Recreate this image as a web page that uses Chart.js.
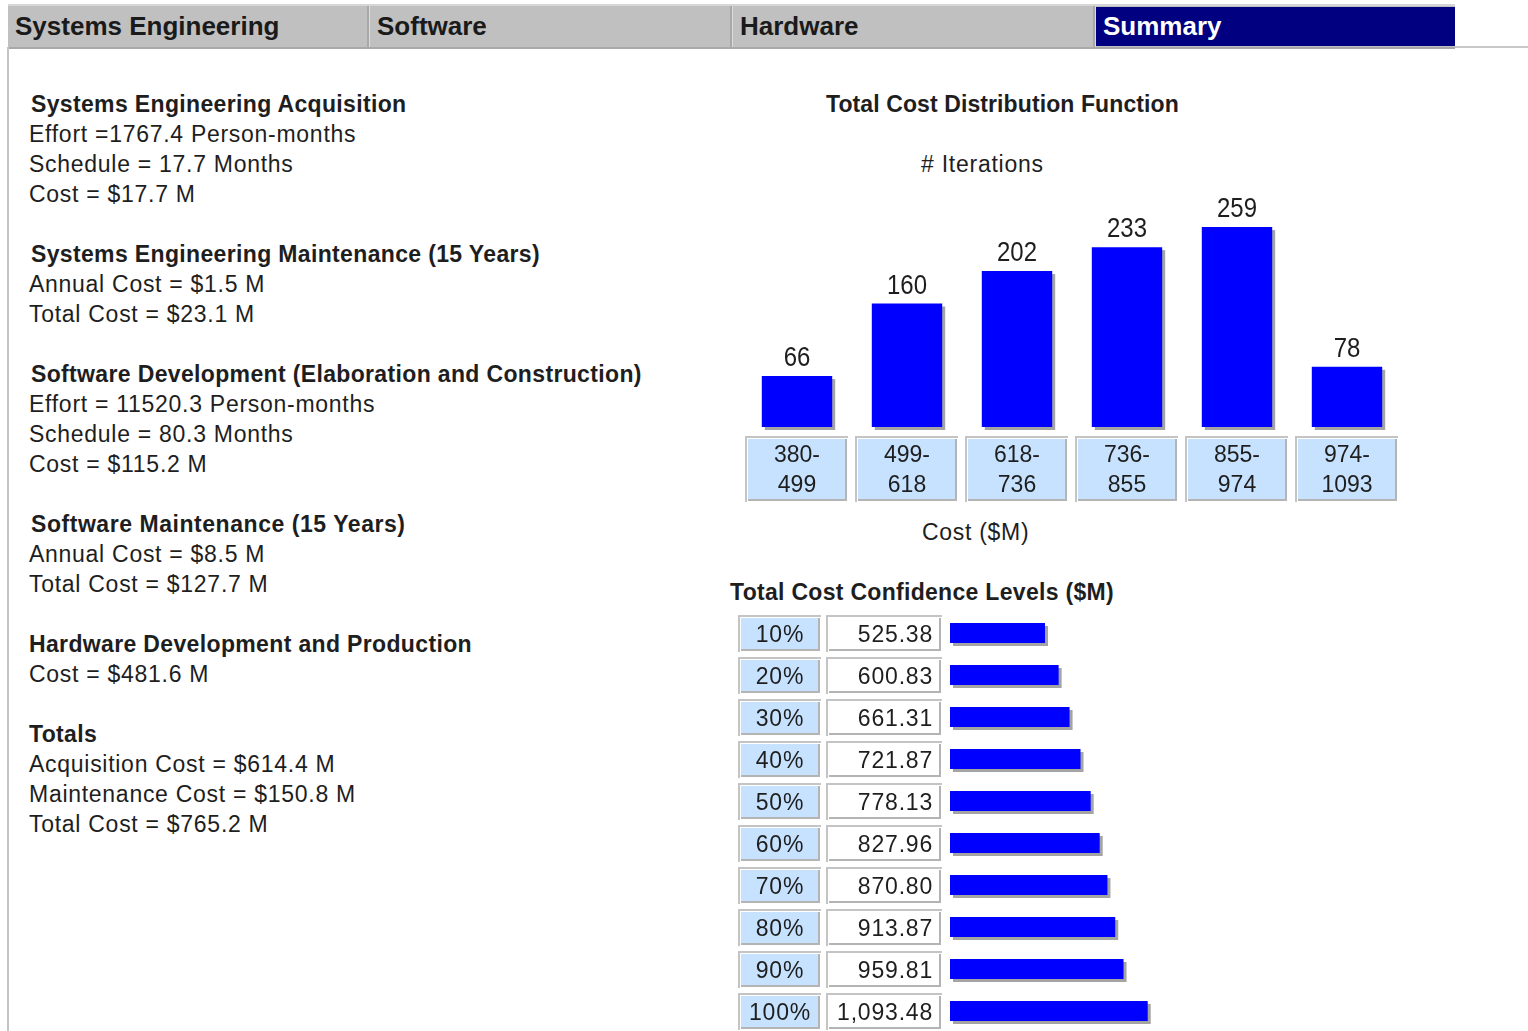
<!DOCTYPE html>
<html><head><meta charset="utf-8">
<script src="https://cdn.jsdelivr.net/npm/chart.js@4/dist/chart.umd.min.js"></script>
<style>
html,body{margin:0;padding:0;background:#fff;width:1528px;height:1031px;overflow:hidden;font-family:"Liberation Sans",Arial,sans-serif;color:#1e1e1e}
.abs{position:absolute;white-space:nowrap}
#tabbar{position:absolute;left:8px;top:4px;width:1447px;height:41px;background:#c0c0c0;border-top:2px solid #d6d6d6;border-bottom:2px solid #a9a9a9}
.tab{position:absolute;top:0;height:41px;line-height:41px;font-weight:bold;font-size:26px;padding-left:7px;box-sizing:border-box;color:#1a1a1a}
.div{position:absolute;top:0;width:2px;height:41px;background:#a8a8a8;border-right:1px solid #dcdcdc}
#rightline{position:absolute;left:1455px;top:46px;width:73px;height:2px;background:#c8c8c8}
#leftline{position:absolute;left:7px;top:47px;width:2px;height:984px;background:#c4c4c4}
#info{position:absolute;left:29px;top:89px;font-size:23px;line-height:30px;letter-spacing:0.72px}
#info b{display:block;margin-left:2px;letter-spacing:0.35px}
#info .gap{height:30px}
.t{font-size:23px;line-height:30px;letter-spacing:0.75px}
.tb{font-size:23px;line-height:30px;font-weight:bold}
</style></head>
<body>
<div id="tabbar">
  <div class="tab" style="left:0;width:360px">Systems Engineering</div>
  <div class="div" style="left:359px"></div>
  <div class="tab" style="left:362px;width:360px">Software</div>
  <div class="div" style="left:722px"></div>
  <div class="tab" style="left:725px;width:360px">Hardware</div>
  <div class="div" style="left:1085px"></div>
  <div class="tab" style="left:1088px;width:359px;background:#000080;color:#fff;top:1px;height:39px;line-height:39px">Summary</div>
</div>
<div id="rightline"></div>
<div id="leftline"></div>

<div id="info">
<b>Systems Engineering Acquisition</b>
<div>Effort =1767.4 Person-months</div>
<div>Schedule = 17.7 Months</div>
<div>Cost = $17.7 M</div>
<div class="gap"></div>
<b>Systems Engineering Maintenance (15 Years)</b>
<div>Annual Cost = $1.5 M</div>
<div>Total Cost = $23.1 M</div>
<div class="gap"></div>
<b>Software Development (Elaboration and Construction)</b>
<div>Effort = 11520.3 Person-months</div>
<div>Schedule = 80.3 Months</div>
<div>Cost = $115.2 M</div>
<div class="gap"></div>
<b style="letter-spacing:0.55px">Software Maintenance (15 Years)</b>
<div>Annual Cost = $8.5 M</div>
<div>Total Cost = $127.7 M</div>
<div class="gap"></div>
<b style="margin-left:0">Hardware Development and Production</b>
<div>Cost = $481.6 M</div>
<div class="gap"></div>
<b style="margin-left:0">Totals</b>
<div>Acquisition Cost = $614.4 M</div>
<div>Maintenance Cost = $150.8 M</div>
<div>Total Cost = $765.2 M</div>
</div>

<div class="abs tb" style="left:826px;top:89px;letter-spacing:0.1px">Total Cost Distribution Function</div>
<div class="abs t" style="left:921px;top:149px">#&nbsp;Iterations</div>
<div class="abs t" style="left:922px;top:517px;letter-spacing:0.7px">Cost ($M)</div>
<div class="abs tb" style="left:730px;top:577px;letter-spacing:0.3px">Total Cost Confidence Levels ($M)</div>

<canvas id="hist" style="position:absolute;left:742px;top:180px"></canvas>
<canvas id="conf" style="position:absolute;left:736px;top:612px"></canvas>

<script>
// ---- data ----
const costBins = [["380-","499"],["499-","618"],["618-","736"],["736-","855"],["855-","974"],["974-","1093"]];
const iterations = [66,160,202,233,259,78];
const confLevels = ["10%","20%","30%","40%","50%","60%","70%","80%","90%","100%"];
const confCosts = [525.38,600.83,661.31,721.87,778.13,827.96,870.80,913.87,959.81,1093.48];

const FONT = '"Liberation Sans", Arial, sans-serif';
const BLUE = '#0000ff';
const SHADOW = '#a4a4a4';
const CELL = '#c6e2ff';
const BORDER = '#c4c4c4';
const INK = '#1e1e1e';

function drawCell(ctx, x1, y1, x2, y2, fill) {
  ctx.save();
  ctx.fillStyle = BORDER;
  ctx.fillRect(x1, y1, x2 - x1, y2 - y1);
  ctx.fillStyle = '#ffffff';
  ctx.fillRect(x1 + 2, y1 + 2, x2 - x1 - 2, y2 - y1 - 2);
  ctx.fillStyle = '#b4b4b4';
  ctx.fillRect(x1 + 3, y1 + 3, x2 - x1 - 4, y2 - y1 - 4);
  ctx.fillStyle = fill;
  ctx.fillRect(x1 + 3, y1 + 3, x2 - x1 - 6, y2 - y1 - 6);
  ctx.restore();
}

function barShadow(chart, horizontal) {
  const ctx = chart.ctx;
  const meta = chart.getDatasetMeta(0);
  ctx.save();
  ctx.fillStyle = SHADOW;
  meta.data.forEach(el => {
    const p = el.getProps(['x','y','base','width','height'], true);
    if (horizontal) {
      ctx.fillRect(p.base + 3, p.y - p.height / 2 + 3, p.x - p.base, p.height);
    } else {
      ctx.fillRect(p.x - p.width / 2 + 3, p.y + 3, p.width, p.base - p.y);
    }
  });
  ctx.restore();
}

// ---- histogram ----
const histPlugin = {
  id: 'histDeco',
  beforeDraw(chart) {
    const ctx = chart.ctx, xs = chart.scales.x, area = chart.chartArea;
    const step = xs.getPixelForValue(1) - xs.getPixelForValue(0);
    chart.data.labels.forEach((l, i) => {
      const cx = xs.getPixelForValue(i);
      drawCell(ctx, cx - step / 2 + 3, area.bottom + 9, cx + step / 2 - 4, area.bottom + 75, CELL);
    });
  },
  beforeDatasetsDraw(chart) { barShadow(chart, false); },
  afterDatasetsDraw(chart) {
    const ctx = chart.ctx, meta = chart.getDatasetMeta(0);
    meta.data.forEach((el, i) => {
      ctx.save();
      ctx.font = '24px ' + FONT;
      ctx.fillStyle = INK;
      ctx.textAlign = 'center';
      ctx.textBaseline = 'alphabetic';
      ctx.translate(el.x, el.y - 10);
      ctx.scale(1, 1.17);
      ctx.fillText(String(chart.data.datasets[0].data[i]), 0, 0);
      ctx.restore();
    });
  }
};

const hc = document.getElementById('hist');
hc.width = 660; hc.height = 325;
new Chart(hc, {
  type: 'bar',
  data: { labels: costBins, datasets: [{ data: iterations, backgroundColor: BLUE, borderWidth: 0, barPercentage: 0.64, categoryPercentage: 1 }] },
  options: {
    responsive: false, animation: false, devicePixelRatio: 1,
    layout: { padding: 0 },
    plugins: { legend: { display: false }, tooltip: { enabled: false } },
    scales: {
      x: {
        grid: { display: false, drawTicks: false }, border: { display: false },
        ticks: { color: INK, padding: 14, font: { family: FONT, size: 23, lineHeight: 30 / 23 }, maxRotation: 0, autoSkip: false },
        afterFit(s) { s.height = 78; }
      },
      y: { display: false, min: 0, max: 320 }
    }
  },
  plugins: [histPlugin]
});

// ---- confidence levels ----
const confPlugin = {
  id: 'confDeco',
  beforeDraw(chart) {
    const ctx = chart.ctx, ys = chart.scales.y;
    ctx.save();
    ctx.font = '23px ' + FONT;
    ctx.letterSpacing = '0.8px';
    ctx.textBaseline = 'middle';
    chart.data.labels.forEach((l, i) => {
      const cy = ys.getPixelForValue(i);
      drawCell(ctx, 2, cy - 18, 85, cy + 19, CELL);
      drawCell(ctx, 90, cy - 18, 206, cy + 19, '#ffffff');
      ctx.fillStyle = INK;
      ctx.textAlign = 'center';
      ctx.fillText(l, 44, cy + 3);
      ctx.textAlign = 'right';
      const v = chart.data.datasets[0].data[i];
      ctx.fillText(v.toLocaleString('en-US', { minimumFractionDigits: 2, maximumFractionDigits: 2 }), 197, cy + 3);
    });
    ctx.restore();
  },
  beforeDatasetsDraw(chart) { barShadow(chart, true); }
};

const cc = document.getElementById('conf');
cc.width = 440; cc.height = 420;
new Chart(cc, {
  type: 'bar',
  data: { labels: confLevels, datasets: [{ data: confCosts, backgroundColor: BLUE, borderWidth: 0, barPercentage: 20 / 42, categoryPercentage: 1 }] },
  options: {
    indexAxis: 'y',
    responsive: false, animation: false, devicePixelRatio: 1,
    layout: { padding: { left: 214, right: 0, top: 0, bottom: 0 } },
    plugins: { legend: { display: false }, tooltip: { enabled: false } },
    scales: {
      x: { display: false, min: 0, max: 1250 },
      y: { display: false }
    }
  },
  plugins: [confPlugin]
});
</script>
</body></html>
